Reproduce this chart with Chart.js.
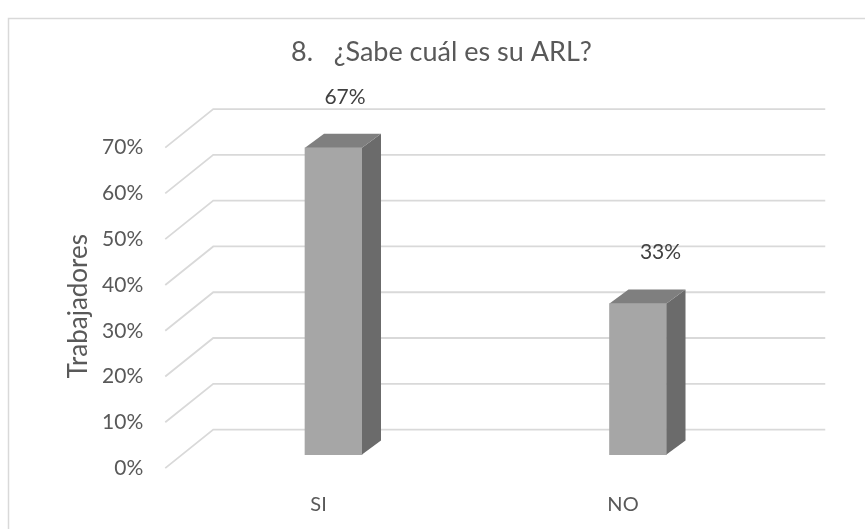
<!DOCTYPE html>
<html>
<head>
<meta charset="utf-8">
<script src="https://cdn.jsdelivr.net/npm/chart.js@4.4.0/dist/chart.umd.min.js"></script>
<style>
  html, body { margin: 0; padding: 0; background: #ffffff; }
  #c { display: block; }
</style>
</head>
<body>
<canvas id="c" width="865" height="529"></canvas>
<script>
// ---- data ----
const categories = ['SI', 'NO'];
const values = [67, 33];              // percent of workers
const tickValues = [0, 10, 20, 30, 40, 50, 60, 70];
const titleText = '8.   ¿Sabe cuál es su ARL?';
const yAxisTitle = 'Trabajadores';

// ---- style ----
const FONT = 'Lato';
const TEXT = '#595959';
const GRID = '#d9d9d9';
const FRONT = '#a6a6a6', SIDE = '#6b6b6b', TOP = '#7f7f7f';
const DEPTH = { dx: 19, dy: -14 };        // bar depth
const BACK = { dx: 32, dy: -25 };         // back wall relative to bar plane
const FRONTEDGE = { dx: -16, dy: 13.5 };  // front edge relative to bar plane
const labelShift = [2, 13];

const framePlugin = {
  id: 'frame',
  beforeDraw(chart) {
    const ctx = chart.ctx;
    ctx.save();
    ctx.strokeStyle = GRID;
    ctx.lineWidth = 1.5;
    ctx.strokeRect(8.5, 18.5, 1000, 1000);
    ctx.restore();
  }
};

const gridPlugin = {
  id: 'grid3d',
  beforeDatasetsDraw(chart) {
    const { ctx, chartArea, scales } = chart;
    const y = scales.y;
    ctx.save();
    ctx.strokeStyle = GRID;
    ctx.lineWidth = 1.8;
    tickValues.forEach(v => {
      const py = y.getPixelForValue(v);
      ctx.beginPath();
      ctx.moveTo(chartArea.left + FRONTEDGE.dx, py + FRONTEDGE.dy);
      ctx.lineTo(chartArea.left + BACK.dx, py + BACK.dy);
      ctx.lineTo(chartArea.right + BACK.dx + 3, py + BACK.dy);
      ctx.stroke();
    });
    ctx.restore();
  }
};

const barsPlugin = {
  id: 'bars3d',
  afterDatasetsDraw(chart) {
    const ctx = chart.ctx;
    const meta = chart.getDatasetMeta(0);
    ctx.save();
    meta.data.forEach((el, i) => {
      const { x, y, base, width } = el.getProps(['x', 'y', 'base', 'width'], true);
      const l = x - width / 2, r = x + width / 2;
      // side face
      ctx.fillStyle = SIDE;
      ctx.beginPath();
      ctx.moveTo(r, y);
      ctx.lineTo(r + DEPTH.dx, y + DEPTH.dy);
      ctx.lineTo(r + DEPTH.dx, base + DEPTH.dy);
      ctx.lineTo(r, base);
      ctx.closePath();
      ctx.fill();
      // top face
      ctx.fillStyle = TOP;
      ctx.beginPath();
      ctx.moveTo(l, y);
      ctx.lineTo(l + DEPTH.dx, y + DEPTH.dy);
      ctx.lineTo(r + DEPTH.dx, y + DEPTH.dy);
      ctx.lineTo(r, y);
      ctx.closePath();
      ctx.fill();
      // value label
      ctx.fillStyle = '#404040';
      ctx.font = '21px ' + FONT;
      ctx.textAlign = 'center';
      ctx.textBaseline = 'middle';
      ctx.fillText(values[i] + '%', x + DEPTH.dx / 2 + labelShift[i], y + DEPTH.dy - 37);
    });
    ctx.restore();
  }
};

new Chart(document.getElementById('c'), {
  type: 'bar',
  data: {
    labels: categories,
    datasets: [{
      data: values,
      backgroundColor: FRONT,
      borderWidth: 0,
      barThickness: 57,
      categoryPercentage: 1,
      barPercentage: 1
    }]
  },
  options: {
    responsive: false,
    animation: false,
    layout: { padding: { left: 18, right: 0, top: 0, bottom: 0 } },
    plugins: {
      legend: { display: false },
      tooltip: { enabled: false },
      title: {
        display: true,
        text: titleText,
        color: TEXT,
        font: { family: FONT, size: 27, weight: 'normal', lineHeight: 1.2 },
        padding: { top: 36.3, bottom: 65.4 }
      }
    },
    scales: {
      x: {
        grid: { display: false, drawTicks: false },
        border: { display: false },
        ticks: { color: TEXT, font: { family: FONT, size: 20 }, labelOffset: -15, padding: 14 },
        afterFit: s => { s.height = 47; }
      },
      y: {
        min: -5.2,
        max: 70,
        afterBuildTicks: s => { s.ticks = tickValues.map(v => ({ value: v })); },
        grid: { display: false, drawTicks: false },
        border: { display: false },
        ticks: {
          callback: v => v + '%',
          color: TEXT,
          font: { family: FONT, size: 21 },
          labelOffset: 13.5,
          padding: 38
        },
        title: {
          display: true,
          text: yAxisTitle,
          color: TEXT,
          font: { family: FONT, size: 26 },
          padding: { top: 45.4, bottom: 0 }
        },
        afterFit: s => { s.width = 163.25; }
      },
      yR: {
        type: 'linear',
        position: 'right',
        display: true,
        grid: { display: false, drawTicks: false },
        border: { display: false },
        ticks: { display: false },
        afterFit: s => { s.width = 74.75; }
      }
    }
  },
  plugins: [framePlugin, gridPlugin, barsPlugin]
});
</script>
</body>
</html>
